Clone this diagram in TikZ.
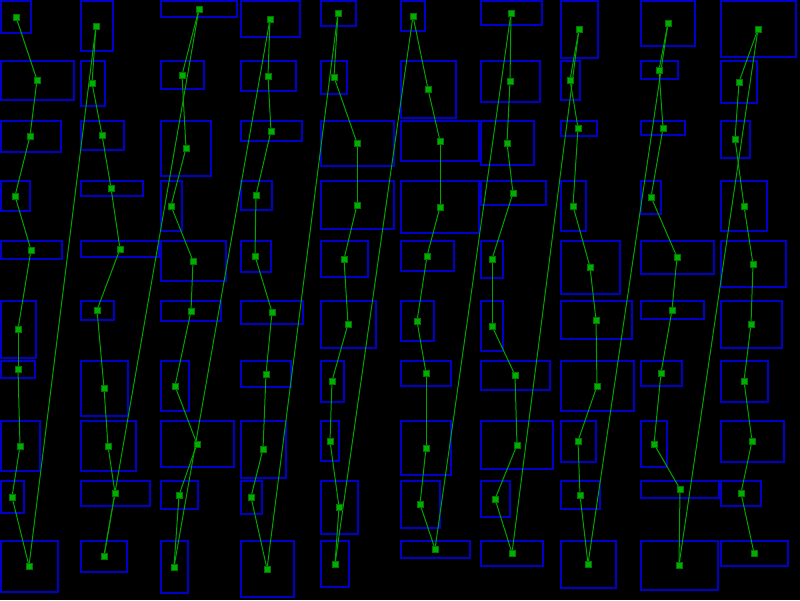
\documentclass[tikz,border=0pt]{standalone}
\pgfdeclarelayer{bg}
\pgfsetlayers{bg,main}
\definecolor{boxblue}{RGB}{0,0,200}
\definecolor{linkgreen}{RGB}{0,165,0}
\definecolor{dotgreen}{RGB}{0,175,0}
\definecolor{dotedge}{RGB}{0,120,0}
\tikzset{
  cellbox/.style={draw=boxblue, line width=2pt},
  link/.style={draw=linkgreen, line width=1pt},
  dot/.style={rectangle, fill=dotgreen, draw=dotedge, line width=0.8pt, minimum size=6pt, inner sep=0pt},
}
\begin{document}
\begin{tikzpicture}[x=1pt,y=-1pt]
\begin{pgfonlayer}{bg}
\fill[black] (0,0) rectangle (800,600);
\end{pgfonlayer}
\useasboundingbox (0,0) rectangle (800,600);
\foreach \n/\x/\y/\R/\B in {
0/16/17/32/34, 1/37/80/75/101, 2/30/136/62/153, 3/15/196/31/212, 4/31/250/63/260,
5/18/329/37/359, 6/18/369/36/379, 7/20/446/41/472, 8/12/497/25/514, 9/29/566/59/593,
10/96/26/114/52, 11/92/83/106/107, 12/102/135/125/151, 13/111/188/144/197, 14/120/249/160/258,
15/97/310/115/321, 16/104/388/129/417, 17/108/446/137/472, 18/115/493/151/507, 19/104/556/128/573,
20/199/9/238/18, 21/182/75/205/90, 22/186/148/212/177, 23/171/206/183/232, 24/193/261/227/282,
25/191/311/222/322, 26/175/386/190/412, 27/197/444/235/468, 28/179/495/199/510, 29/174/567/189/594,
30/270/19/301/38, 31/268/76/297/92, 32/271/131/303/142, 33/256/195/273/211, 34/255/256/272/273,
35/272/312/304/325, 36/266/374/292/388, 37/263/449/287/479, 38/251/497/263/515, 39/267/569/295/598,
40/338/13/357/27, 41/334/77/348/95, 42/357/143/395/167, 43/357/205/395/230, 44/344/259/369/278,
45/348/324/377/349, 46/332/381/345/403, 47/330/441/340/462, 48/339/507/359/535, 49/335/564/350/588,
50/413/16/426/32, 51/428/89/457/119, 52/440/141/480/162, 53/440/207/480/234, 54/427/256/455/272,
55/417/321/435/342, 56/426/373/452/387, 57/426/448/452/476, 58/420/504/441/529, 59/435/549/471/559,
60/511/13/543/26, 61/510/81/541/103, 62/507/143/535/166, 63/513/193/547/206, 64/492/259/504/279,
65/492/326/504/352, 66/515/375/551/391, 67/517/445/554/470, 68/495/499/511/518, 69/512/553/544/567,
70/579/29/599/59, 71/570/80/581/101, 72/578/128/598/137, 73/573/206/587/232, 74/590/267/621/295,
75/596/320/633/340, 76/597/386/635/412, 77/578/441/597/463, 78/580/495/601/510, 79/588/564/617/589,
80/668/23/696/47, 81/659/70/679/80, 82/663/128/686/136, 83/651/197/662/215, 84/677/257/715/275,
85/672/310/705/320, 86/661/373/683/387, 87/654/444/668/468, 88/680/489/720/499, 89/679/565/719/591,
90/758/29/797/58, 91/739/82/758/104, 92/735/139/751/159, 93/744/206/768/232, 94/753/264/787/288,
95/751/324/783/349, 96/744/381/769/403, 97/752/441/785/463, 98/741/493/762/507, 99/754/553/789/567}{
  \pgfmathtruncatemacro{\cx}{80*int(\n/10)+1}
  \pgfmathtruncatemacro{\cy}{60*mod(\n,10)+1}
  \pgfmathtruncatemacro{\rx}{\R-1}
  \pgfmathtruncatemacro{\ry}{\B-1}
  \begin{pgfonlayer}{bg}
    \draw[cellbox] (\cx,\cy) rectangle (\rx,\ry);
  \end{pgfonlayer}
  \node[dot] (d\n) at (\x,\y) {};
}
\begin{pgfonlayer}{bg}
\foreach \i [remember=\i as \j (initially 0)] in {1,...,99}{
  \draw[link] (d\j.center) -- (d\i.center);
}
\end{pgfonlayer}
\end{tikzpicture}
\end{document}
